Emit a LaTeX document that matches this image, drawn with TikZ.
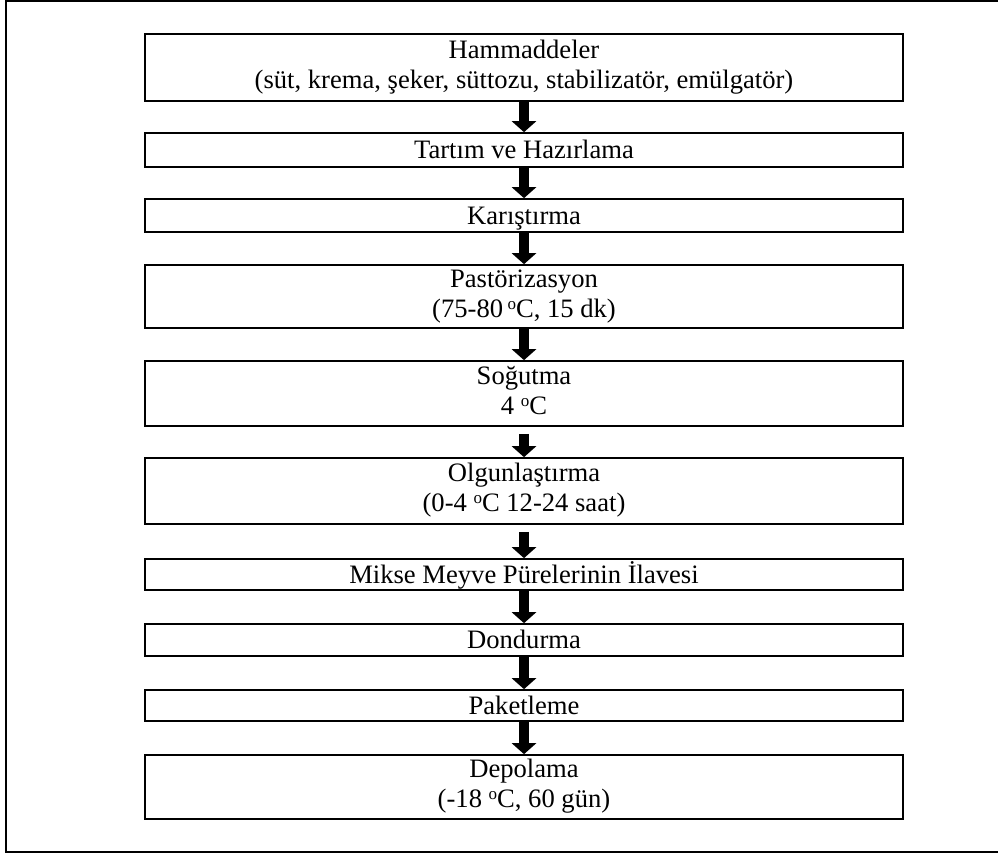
\documentclass[tikz,border=0pt]{standalone}
\usepackage{fontspec}
\setmainfont{Liberation Serif}
\usetikzlibrary{arrows.meta}
\newcommand\degsym{\raisebox{4.2pt}{\fontsize{8.5}{8.5}\selectfont o}}
\newcommand\twolines[2]{\vbox{\halign{\hfil##\hfil\cr#1\cr#2\cr}}}
\begin{document}
\begin{tikzpicture}[x=0.5pt,y=-0.5pt,
  box/.style={draw, line width=0.8pt, minimum width=379pt, inner sep=0pt,
    font=\fontsize{13.3}{15}\selectfont},
  one/.style={box, text height=8.8pt, text depth=0pt},
  two/.style={box, text height=21pt, text depth=0pt},
  flow/.style={line width=5pt, -{Triangle[width=12pt,length=5.5pt]}},
  frame/.style={line width=1pt}]
\useasboundingbox (0,0) rectangle (998,854);
\draw[frame] (1002,1) -- (6,1) -- (6,852) -- (1002,852);
\node[two, minimum height=33.5pt] (b1) at (524,67.5) {\twolines{Hammaddeler}{(süt, krema, şeker, süttozu, stabilizatör, emülgatör)}};
\node[one, minimum height=17pt] (b2) at (524,150) {Tartım ve Hazırlama};
\node[one, minimum height=16.5pt] (b3) at (524,215.5) {Karıştırma};
\node[two, minimum height=31.5pt] (b4) at (524,296.5) {\twolines{Pastörizasyon}{(75-80\,\degsym C, 15 dk)}};
\node[two, minimum height=32.5pt] (b5) at (524,393.5) {\twolines{Soğutma}{4 \degsym C}};
\node[two, minimum height=33pt] (b6) at (524,491) {\twolines{Olgunlaştırma}{(0-4 \degsym C 12-24 saat)}};
\node[one, minimum height=15.5pt] (b7) at (524,574.5) {Mikse Meyve Pürelerinin İlavesi};
\node[one, minimum height=16pt] (b8) at (524,640) {Dondurma};
\node[one, minimum height=15.5pt] (b9) at (524,705.5) {Paketleme};
\node[two, minimum height=32pt] (b10) at (524,787) {\twolines{Depolama}{(-18 \degsym C, 60 gün)}};
\draw[flow] (b1) -- (b2);
\draw[flow] (b2) -- (b3);
\draw[flow] (b3) -- (b4);
\draw[flow] (b4) -- (b5);
\draw[flow, shorten <=3.5pt] (b5) -- (b6);
\draw[flow, shorten <=3.5pt] (b6) -- (b7);
\draw[flow] (b7) -- (b8);
\draw[flow] (b8) -- (b9);
\draw[flow] (b9) -- (b10);
\end{tikzpicture}
\end{document}
